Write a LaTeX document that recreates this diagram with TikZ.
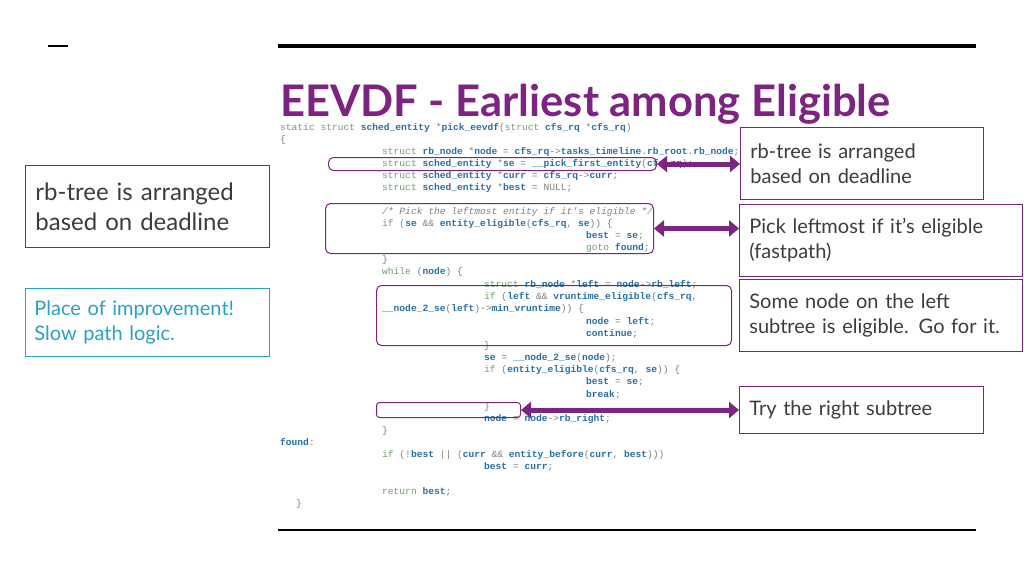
\documentclass[tikz,border=0pt]{standalone}
\usepackage{fontspec}
\usetikzlibrary{arrows.meta}
\setmainfont{Lato}
\setmonofont{Liberation Mono}
\definecolor{pur}{RGB}{125,35,130}
\definecolor{kwc}{RGB}{110,160,110}
\definecolor{idc}{RGB}{40,110,170}
\definecolor{txt}{RGB}{60,60,60}
\definecolor{teal}{RGB}{40,160,200}
\newcommand\kw[1]{\textcolor{kwc}{#1}}
\newcommand\id[1]{\textcolor{idc}{\textbf{#1}}}
\begin{document}
\begin{tikzpicture}[x=1pt,y=-1pt,
 code/.style={anchor=base west,inner sep=0,font=\ttfamily\fontsize{9.6}{10}\selectfont,text=gray},
 hl/.style={draw=pur,line width=1pt,rounded corners=5pt},
 lbl/.style={draw=pur,line width=0.8pt,anchor=north west,align=left,inner xsep=10pt,font=\fontsize{20}{25}\selectfont,text=txt},
 dbl/.style={pur,line width=5pt,{Triangle[length=10pt,width=16pt]}-{Triangle[length=10pt,width=16pt]}}]
\useasboundingbox (0,0) rectangle (1024,576);
\draw[line width=4pt] (278,46) -- (976,46);
\draw[line width=2pt] (278,530) -- (976,530);
\draw[line width=2pt] (48,46) -- (68,46);
\node[anchor=base west,inner sep=0,text=pur,font=\bfseries\fontsize{43.5}{46}\selectfont] (title) at (280,116) {EEVDF - Earliest among Eligible};
% code
\node[code] (c1) at (280,130) {\kw{static struct} \id{sched\_entity} *\id{pick\_eevdf}(\kw{struct} \id{cfs\_rq} *\id{cfs\_rq})};
\node[code] (c2) at (280,142) {\{};
\node[code] (c3) at (382,154) {\kw{struct} \id{rb\_node} *\id{node} = \id{cfs\_rq}->\id{tasks\_timeline}.\id{rb\_root}.\id{rb\_node};};
\node[code] (c4) at (382,166) {\kw{struct} \id{sched\_entity} *\id{se} = \id{\_\_pick\_first\_entity}(\id{cfs\_rq});};
\node[code] (c5) at (382,178) {\kw{struct} \id{sched\_entity} *\id{curr} = \id{cfs\_rq}->\id{curr};};
\node[code] (c6) at (382,190) {\kw{struct} \id{sched\_entity} *\id{best} = NULL;};
\node[code] (c7) at (382,214) {\textit{/* Pick the leftmost entity if it's eligible */}};
\node[code] (c8) at (382,226) {\kw{if} (\id{se} \&\& \id{entity\_eligible}(\id{cfs\_rq}, \id{se})) \{};
\node[code] (c9) at (586,238) {\id{best} = \id{se};};
\node[code] (c10) at (586,250) {\kw{goto} \id{found};};
\node[code] (c11) at (382,262) {\}};
\node[code] (c12) at (382,274) {\kw{while} (\id{node}) \{};
\node[code] (c13) at (484,287) {\kw{struct} \id{rb\_node} *\id{left} = \id{node}->\id{rb\_left};};
\node[code] (c14) at (484,299) {\kw{if} (\id{left} \&\& \id{vruntime\_eligible}(\id{cfs\_rq},};
\node[code] (c15) at (382,311) {\id{\_\_node\_2\_se}(\id{left})->\id{min\_vruntime})) \{};
\node[code] (c16) at (586,324) {\id{node} = \id{left};};
\node[code] (c17) at (586,336) {\id{continue};};
\node[code] (c18) at (484,348) {\}};
\node[code] (c19) at (484,360) {\id{se} = \id{\_\_node\_2\_se}(\id{node});};
\node[code] (c20) at (484,372) {\kw{if} (\id{entity\_eligible}(\id{cfs\_rq}, \id{se})) \{};
\node[code] (c21) at (586,384) {\id{best} = \id{se};};
\node[code] (c22) at (586,397) {\id{break};};
\node[code] (c23) at (484,409) {\}};
\node[code] (c24) at (484,421) {\id{node} = \id{node}->\id{rb\_right};};
\node[code] (c25) at (382,433) {\}};
\node[code] (c26) at (280,445) {\id{found}:};
\node[code] (c27) at (382,457) {\kw{if} (!\id{best} || (\id{curr} \&\& \id{entity\_before}(\id{curr}, \id{best})))};
\node[code] (c28) at (484,469) {\id{best} = \id{curr};};
\node[code] (c29) at (382,494) {\kw{return} \id{best};};
\node[code] (c30) at (296,506) {\}};
% highlight boxes
\node[hl,minimum width=328pt,minimum height=13pt,anchor=north west,inner sep=0] (h1) at (328,157) {};
\node[hl,minimum width=328pt,minimum height=50pt,anchor=north west,inner sep=0] (h2) at (325,203) {};
\node[hl,minimum width=355pt,minimum height=60pt,anchor=north west,inner sep=0] (h3) at (376,285) {};
\node[hl,minimum width=144pt,minimum height=15pt,anchor=north west,inner sep=0,rounded corners=3pt] (h4) at (376,402) {};
% right labels
\node[lbl,fill=white,text width=223pt,minimum height=72pt] (r1) at (740,127) {rb-tree is arranged\\based on deadline};
\node[lbl,text width=263pt,minimum height=72pt] (r2) at (739,204) {Pick leftmost if it’s eligible\\(fastpath)};
\node[lbl,text width=263pt,minimum height=72pt] (r3) at (739,279) {Some node on the left\\subtree is eligible. Go for it.};
\node[lbl,text width=224pt,minimum height=47pt] (r4) at (739,386) {Try the right subtree};
% left labels
\node[lbl,text width=224pt,minimum height=82pt,font=\fontsize{24}{30}\selectfont] (l1) at (25,165) {rb-tree is arranged\\based on deadline};
\node[lbl,draw=teal,text=teal,text width=226pt,minimum height=68pt,inner xsep=9pt] (l2) at (25,288) {Place of improvement!\\Slow path logic.};
% arrows
\draw[dbl] (h1.east) -- (r1.west |- h1.east);
\draw[dbl] (h2.east) -- (r2.west |- h2.east);
\draw[dbl] (h4.east) -- (r4.west |- h4.east);
\end{tikzpicture}
\end{document}
